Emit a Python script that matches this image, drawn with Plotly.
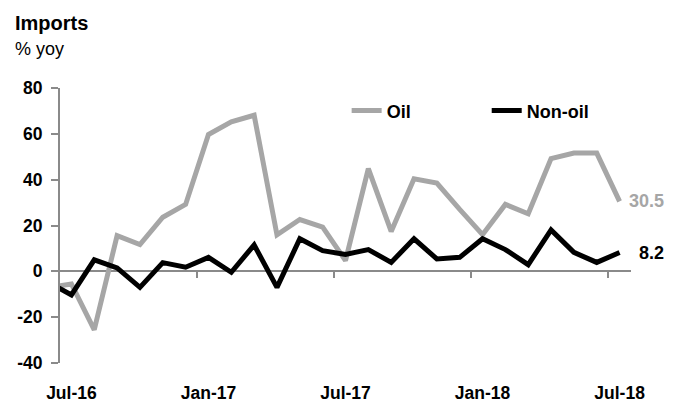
import plotly.graph_objects as go

months = ["Jun-16", "Jul-16", "Aug-16", "Sep-16", "Oct-16", "Nov-16", "Dec-16",
          "Jan-17", "Feb-17", "Mar-17", "Apr-17", "May-17", "Jun-17",
          "Jul-17", "Aug-17", "Sep-17", "Oct-17", "Nov-17", "Dec-17",
          "Jan-18", "Feb-18", "Mar-18", "Apr-18", "May-18", "Jun-18", "Jul-18"]
oil = [-7.0, -5.5, -25.5, 15.6, 11.7, 23.6, 29.2,
       59.7, 65.2, 68.1, 15.9, 22.6, 19.3,
       4.7, 44.8, 17.4, 40.4, 38.5, 27.0,
       16.0, 29.2, 25.1, 49.2, 51.6, 51.6, 30.5]
non_oil = [-4.8, -10.3, 5.0, 1.5, -7.0, 3.8, 1.8,
           6.1, -0.4, 11.5, -7.0, 14.2, 9.0,
           7.4, 9.5, 3.9, 14.2, 5.4, 6.1,
           14.2, 9.5, 2.9, 18.1, 8.3, 3.9, 8.2]
tick_labels = ["Jul-16", "Jan-17", "Jul-17", "Jan-18", "Jul-18"]
y_ticks = [-40, -20, 0, 20, 40, 60, 80]

x = [i - 1 for i in range(len(months))]  # Jul-16 -> 0
label_pos = [x[months.index(m)] for m in tick_labels]
boundary_pos = [p - 0.5 for p in label_pos[1:]]

FONT = "Liberation Sans, Arial, sans-serif"
GREY = "#a6a6a6"
AXIS = "#8a8a8a"

fig = go.Figure()
fig.add_trace(go.Scatter(x=x, y=oil, mode="lines", name="Oil",
                         line=dict(color=GREY, width=5), legend="legend",
                         text=months, hoverinfo="text+y"))
fig.add_trace(go.Scatter(x=x, y=non_oil, mode="lines", name="Non-oil",
                         line=dict(color="#000000", width=5), legend="legend2",
                         text=months, hoverinfo="text+y"))

fig.add_annotation(x=x[-1], y=oil[-1], text="<b>%.1f</b>" % oil[-1], showarrow=False,
                   xanchor="right", xshift=46, font=dict(family=FONT, size=18, color=GREY))
fig.add_annotation(x=x[-1], y=non_oil[-1], text="<b>%.1f</b>" % non_oil[-1], showarrow=False,
                   xanchor="right", xshift=46, font=dict(family=FONT, size=18, color="#000000"))

fig.add_annotation(xref="paper", yref="paper", x=-0.0823, y=1.235, text="<b>Imports</b>",
                   showarrow=False, xanchor="left", yanchor="middle",
                   font=dict(family=FONT, size=20, color="#000000"))
fig.add_annotation(xref="paper", yref="paper", x=-0.0823, y=1.143, text="% yoy",
                   showarrow=False, xanchor="left", yanchor="middle",
                   font=dict(family=FONT, size=18, color="#000000"))

fig.update_layout(
    width=678, height=402,
    margin=dict(l=60, r=47, t=88, b=39, autoexpand=False),
    paper_bgcolor="white", plot_bgcolor="white",
    font=dict(family=FONT, size=18, color="#000000"),
    showlegend=True,
    legend=dict(orientation="h", x=0.502, y=0.9167, xanchor="left", yanchor="middle",
                bgcolor="rgba(0,0,0,0)", font=dict(family=FONT, size=18, weight="bold"),
                itemwidth=30),
    legend2=dict(orientation="h", x=0.7473, y=0.9167, xanchor="left", yanchor="middle",
                 bgcolor="rgba(0,0,0,0)", font=dict(family=FONT, size=18, weight="bold"),
                 itemwidth=30),
    xaxis=dict(range=[-0.5, 24.5], tickmode="array", tickvals=label_pos,
               ticktext=["<b>%s</b>" % t for t in tick_labels],
               ticks="", showline=False, showgrid=False, zeroline=False, automargin=False,
               ticklabelstandoff=17, tickfont=dict(family=FONT, size=17.5)),
    xaxis2=dict(range=[-0.5, 24.5], overlaying="x", anchor="free", position=1/3,
                side="bottom", tickmode="array", tickvals=boundary_pos,
                ticks="outside", ticklen=6, tickwidth=2, tickcolor=AXIS, automargin=False,
                showticklabels=False, showline=False, showgrid=False, zeroline=False),
    yaxis=dict(range=[-40, 80], tickmode="array", tickvals=y_ticks,
               ticktext=["<b>%d</b>" % v for v in y_ticks], automargin=False,
               ticks="outside", ticklen=7, tickwidth=2, tickcolor=AXIS,
               showline=True, linecolor=AXIS, linewidth=2, ticklabelstandoff=5,
               showgrid=False, zeroline=True, zerolinecolor=AXIS, zerolinewidth=2,
               tickfont=dict(family=FONT, size=17.5)),
)
# invisible trace that activates xaxis2 (tick marks on the zero line)
fig.add_trace(go.Scatter(x=[None], y=[None], xaxis="x2", showlegend=False, hoverinfo="skip"))

fig.write_html("out.html")
